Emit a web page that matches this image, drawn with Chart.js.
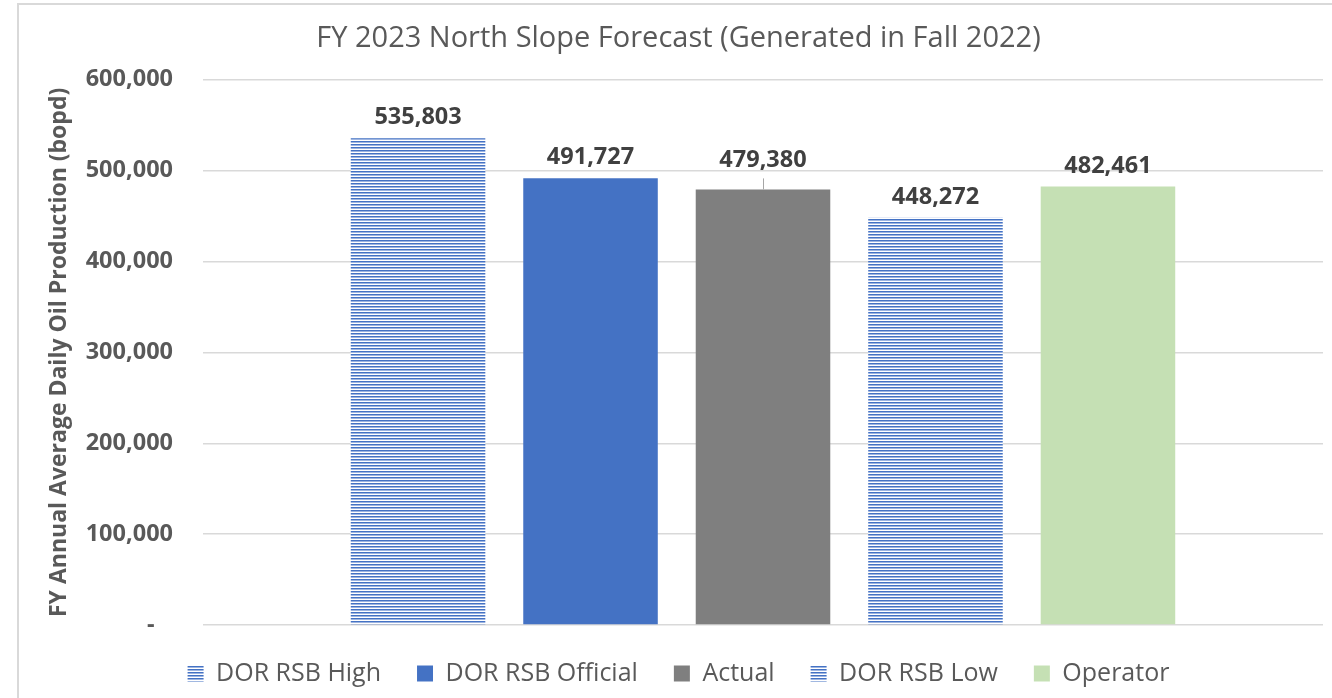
<!DOCTYPE html>
<html>
<head>
<meta charset="utf-8">
<title>FY 2023 North Slope Forecast</title>
<script src="https://cdn.jsdelivr.net/npm/chart.js@4.4.1/dist/chart.umd.min.js"></script>
<style>
  html, body { margin: 0; padding: 0; background: #fff; }
  .chart-wrap { position: relative; width: 1332px; height: 698px; }
</style>
</head>
<body>
<div class="chart-wrap"><canvas id="forecast-chart"></canvas></div>
<script>
// data
const seriesNames = ["DOR RSB High", "DOR RSB Official", "Actual", "DOR RSB Low", "Operator"];
const seriesValues = [535803, 491727, 479380, 448272, 482461];
const yTicks = [0, 100000, 200000, 300000, 400000, 500000, 600000];

const BLUE = "#4472C4";
const textGray = "#595959";
const FONT = "'Open Sans', sans-serif";

// horizontal stripe fill like the Excel pattern
function stripes(color) {
  const c = document.createElement("canvas");
  c.width = 4;
  c.height = 3;
  const g = c.getContext("2d");
  g.fillStyle = "#fff";
  g.fillRect(0, 0, 4, 3);
  g.fillStyle = color;
  g.fillRect(0, 0, 4, 1);
  g.fillStyle = "#9db4e0";
  g.fillRect(0, 1, 4, 1);
  return g.createPattern(c, "repeat");
}

const fills = [stripes(BLUE), BLUE, "#7F7F7F", stripes(BLUE), "#C5E0B4"];
// Actual's label sits a bit higher with a little leader line
const labelLift = [0, 0, 8, 0, 0];

const frame = {
  id: "frame",
  beforeDraw(chart) {
    const ctx = chart.ctx;
    ctx.save();
    ctx.fillStyle = "#fff";
    ctx.fillRect(0, 0, chart.width, chart.height);
    ctx.strokeStyle = "#d9d9d9";
    ctx.lineWidth = 2;
    ctx.beginPath();
    ctx.moveTo(18, chart.height);
    ctx.lineTo(18, 4);
    ctx.lineTo(chart.width, 4);
    ctx.stroke();
    ctx.restore();
  }
};

const barLabels = {
  id: "barLabels",
  afterDatasetsDraw(chart) {
    const ctx = chart.ctx;
    ctx.save();
    ctx.font = "bold 23.5px " + FONT;
    ctx.fillStyle = "#404040";
    ctx.textAlign = "center";
    ctx.textBaseline = "alphabetic";
    chart.data.datasets.forEach((ds, i) => {
      const bar = chart.getDatasetMeta(i).data[0];
      const lift = labelLift[i];
      ctx.fillText(ds.data[0].toLocaleString("en-US"), bar.x, bar.y - 14 - lift);
      if (lift) {
        ctx.strokeStyle = "#a6a6a6";
        ctx.lineWidth = 1;
        ctx.beginPath();
        ctx.moveTo(Math.round(bar.x) + 0.5, bar.y - 11);
        ctx.lineTo(Math.round(bar.x) + 0.5, bar.y);
        ctx.stroke();
      }
    });
    ctx.restore();
  }
};

const ctx = document.getElementById("forecast-chart").getContext("2d");

new Chart(ctx, {
  type: "bar",
  data: {
    labels: [""],
    datasets: seriesNames.map((name, i) => ({
      label: name,
      data: [seriesValues[i]],
      backgroundColor: fills[i],
      borderWidth: 0,
      categoryPercentage: 0.77,
      barPercentage: 0.78,
    })),
  },
  options: {
    responsive: true,
    maintainAspectRatio: false,
    animation: false,
    layout: { padding: { left: 34, right: 9, top: 0, bottom: 2 } },
    plugins: {
      title: {
        display: true,
        text: "FY 2023 North Slope Forecast (Generated in Fall 2022)",
        color: textGray,
        font: { family: FONT, size: 29, weight: "normal" },
        padding: { top: 21, bottom: 24 },
      },
      legend: {
        position: "bottom",
        labels: {
          color: textGray,
          font: { family: FONT, size: 25 },
          boxWidth: 16,
          boxHeight: 16,
          padding: 36,
        },
      },
      tooltip: { enabled: false },
    },
    scales: {
      x: { display: false },
      y: {
        min: 0,
        max: 600000,
        afterBuildTicks(scale) {
          scale.ticks = yTicks.map((v) => ({ value: v }));
        },
        afterFit(scale) {
          scale.width = 169;
        },
        ticks: {
          color: textGray,
          font: { family: FONT, size: 23.5, weight: "bold" },
          padding: 30,
          callback: (v) => (v === 0 ? "-   " : v.toLocaleString("en-US")),
        },
        grid: { color: "#d9d9d9", lineWidth: 1.5, drawTicks: false },
        border: { display: false },
        title: {
          display: true,
          text: "FY Annual Average Daily Oil Production (bopd)",
          color: textGray,
          font: { family: FONT, size: 23, weight: "bold" },
          padding: { top: 12, bottom: 0 },
        },
      },
    },
  },
  plugins: [frame, barLabels],
});
</script>
</body>
</html>
